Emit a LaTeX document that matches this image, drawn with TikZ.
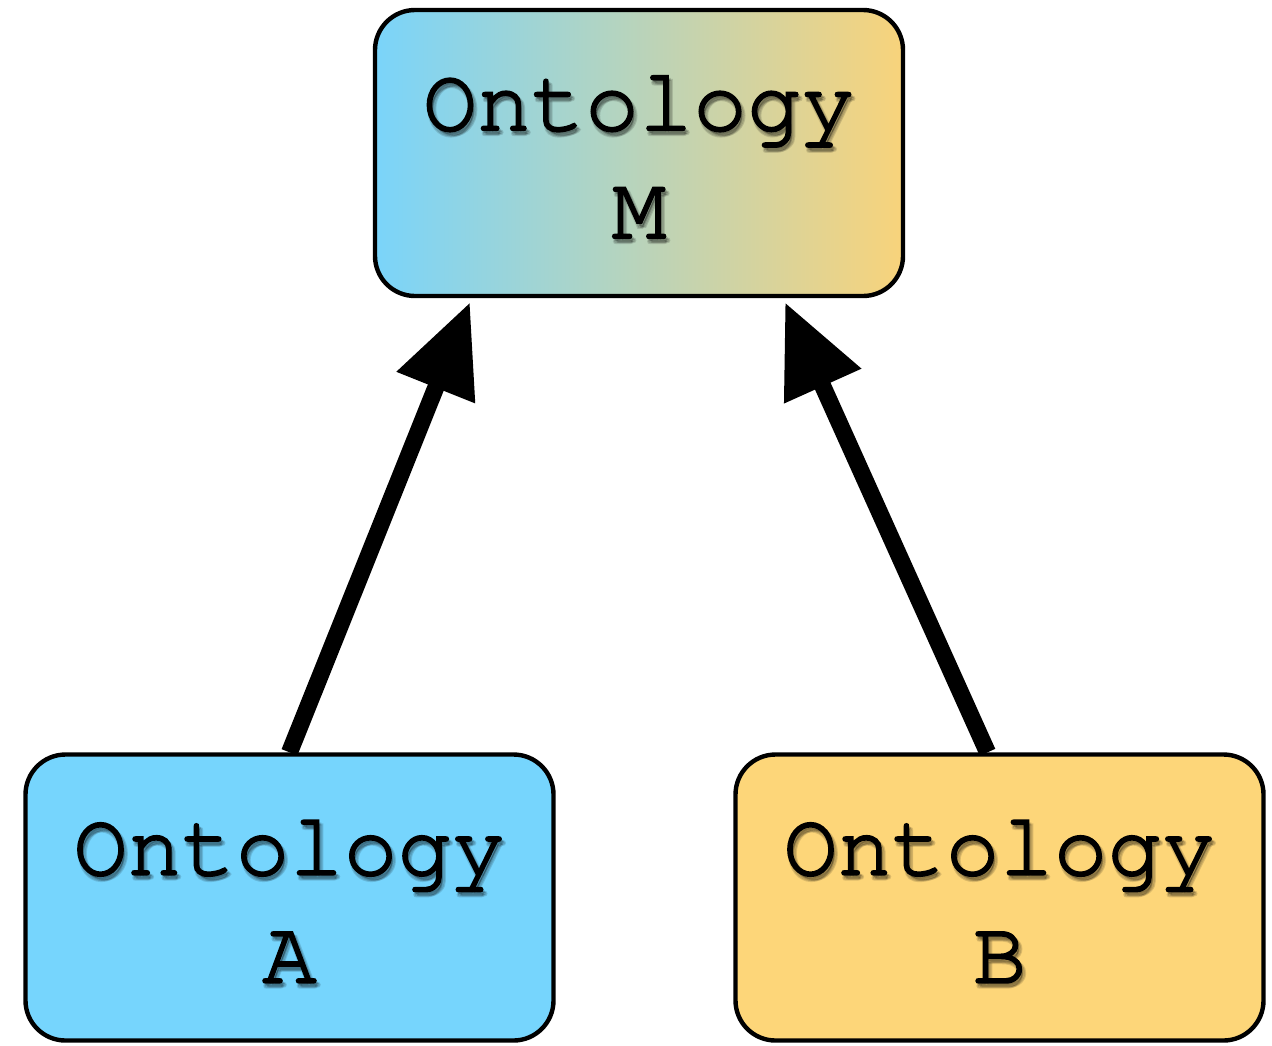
\documentclass[tikz,border=0pt]{standalone}
\usepackage{fontspec}
\setmonofont{TeX Gyre Cursor}[FakeBold=2.2]
\usetikzlibrary{arrows.meta,positioning}
\definecolor{ablue}{HTML}{76D5FD}
\definecolor{byellow}{HTML}{FDD679}
\definecolor{mleft}{HTML}{7AD4FA}
\definecolor{mright}{HTML}{F8D37B}
\tikzset{
  onto/.style={draw=black, line width=2.2pt, rounded corners=20pt, minimum width=264pt, minimum height=143pt, inner sep=0pt},
  lbl/.style={font=\ttfamily\fontsize{45}{54}\selectfont, align=center, text=black},
  shd/.style={font=\ttfamily\fontsize{45}{54}\selectfont, align=center, text=black, opacity=0.13},
  bigarrow/.style={line width=8.5pt, -{Triangle[length=46pt,width=40pt]}, shorten >=0pt},
}
\begin{document}
\begin{tikzpicture}[x=0.5pt,y=-0.5pt]
\useasboundingbox (0,0) rectangle (1272,1045);
\node[onto, shading=axis, left color=mleft, right color=mright] (M) at (639,153) {};
\node[onto, fill=ablue] (A) at (289.5,897.5) {};
\node[onto, fill=byellow] (B) at (999.5,897.5) {};
% soft text shadows
\foreach \n/\t in {M/M,A/A,B/B}{
  \foreach \dx/\dy [count=\i] in {1/-3.5,2/-4,0.5/-4.5}{
    \node[shd] (\n s\i) at ([xshift=\dx pt,yshift=\dy pt]\n.center) {Ontology\\\t};
  }
}
\node[lbl] (Mt) at ([yshift=-2pt]M.center) {Ontology\\M};
\node[lbl] (At) at ([yshift=-2pt]A.center) {Ontology\\A};
\node[lbl] (Bt) at ([yshift=-2pt]B.center) {Ontology\\B};
% arrow endpoints
\coordinate (Atip) at ([xshift=-84.5pt]M.south);
\coordinate (Btip) at ([xshift=73pt]M.south);
\coordinate (Astart) at (A.north);
\coordinate (Bstart) at ([xshift=-6pt]B.north);
\draw[bigarrow] (Astart) -- ([yshift=-2pt]Atip);
\draw[bigarrow] (Bstart) -- ([yshift=-2pt]Btip);
\end{tikzpicture}
\end{document}
